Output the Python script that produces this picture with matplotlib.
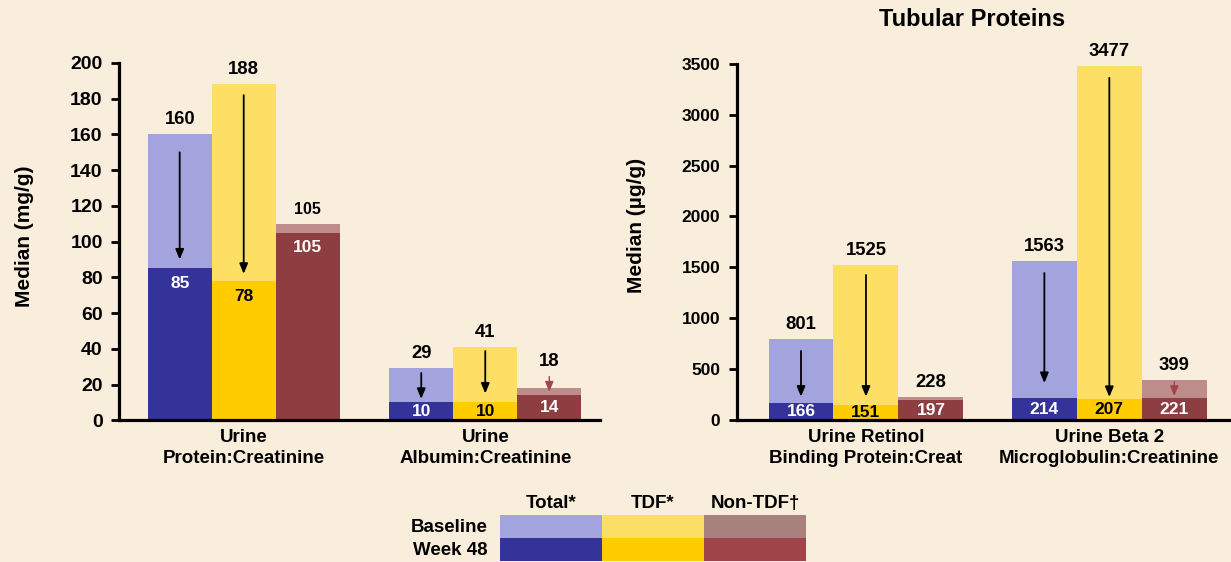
import matplotlib.pyplot as plt
from matplotlib.patches import Rectangle

plt.rcParams['font.family'] = ['Liberation Sans', 'DejaVu Sans']
plt.rcParams['font.weight'] = 'bold'

BG = '#F9EDDC'

# colours used in the chart
C_BASE = ['#A3A3DE', '#FDDF66', '#BF8C8C']
C_W48 = ['#343399', '#FFCC00', '#8E3D40']
TXT_IN = ['white', 'black', 'white']
# colours used in the legend box
L_BASE = ['#A3A3DD', '#FDDF66', '#A98280']
L_W48 = ['#343399', '#FFCC00', '#A0464A']

# ---- left panel data (mg/g)
left_cats = ['Urine\nProtein:Creatinine', 'Urine\nAlbumin:Creatinine']
left_base_total = [160, 29]
left_base_tdf = [188, 41]
left_base_non = [110, 18]
left_base_labels_non = ['105', '18']
left_w48_total = [85, 10]
left_w48_tdf = [78, 10]
left_w48_non = [105, 14]
left_arrows_total = [(150, 90), (26.5, 12)]
left_arrows_tdf = [(182, 82), (38.8, 15)]
left_arrows_non = [None, (24.5, 16)]

# ---- right panel data (ug/g)
right_cats = ['Urine Retinol\nBinding Protein:Creat', 'Urine Beta 2\nMicroglobulin:Creatinine']
right_base_total = [801, 1563]
right_base_tdf = [1525, 3477]
right_base_non = [228, 399]
right_w48_total = [166, 214]
right_w48_tdf = [151, 207]
right_w48_non = [197, 221]
right_arrows_total = [(680, 232), (1445, 366)]
right_arrows_tdf = [(1426, 232), (3360, 229)]
right_arrows_non = [None, (379, 238)]

legend_cols = ['Total*', 'TDF*', 'Non-TDF\u2020']
legend_rows = ['Baseline', 'Week 48']


def draw_panel(ax, cats, base, base_labels, w48, arrows, ymax, ystep, xlim, w,
               small_first_non=False):
    ax.set_facecolor('none')
    offs = [-w, 0, w]
    for i in range(3):
        for g in range(len(cats)):
            x = g + offs[i]
            ax.bar(x, base[i][g], width=w, color=C_BASE[i], linewidth=0)
            ax.bar(x, w48[i][g], width=w, color=C_W48[i], linewidth=0)
            arr = arrows[i][g]
            top = base[i][g]
            if arr is not None:
                col = 'black' if i < 2 else '#A0454A'
                lw = 1.3 if i < 2 else 1.0
                ax.annotate('', xy=(x, arr[1]), xytext=(x, arr[0]),
                            arrowprops=dict(arrowstyle='-|>,head_length=0.6,head_width=0.25',
                                            mutation_scale=10, color=col, lw=lw,
                                            shrinkA=0, shrinkB=0))
                top = max(top, arr[0])
            fs = 11.5 if (small_first_non and i == 2 and g == 0) else 13.3
            ax.annotate(base_labels[i][g], xy=(x, top), xytext=(0, 10.5),
                        textcoords='offset points', ha='center', va='center',
                        fontsize=fs, fontweight='bold', color='black')
            v = w48[i][g]
            h_px = v / ymax * 357
            if h_px > 40:
                ax.annotate(str(v), xy=(x, v), xytext=(0, -11), textcoords='offset points',
                            ha='center', va='center', fontsize=12.5, fontweight='bold',
                            color=TXT_IN[i])
            else:
                ax.text(x, v / 2, str(v), ha='center', va='center', fontsize=12.5,
                        fontweight='bold', color=TXT_IN[i])
    ax.set_xlim(*xlim)
    ax.set_ylim(0, ymax)
    ax.set_yticks(range(0, ymax + 1, ystep))
    ax.set_xticks(range(len(cats)))
    ax.set_xticklabels(cats, fontsize=13.5, fontweight='bold', linespacing=1.35)
    ax.tick_params(axis='x', length=0, pad=6)
    ax.tick_params(axis='y', length=6, width=2, direction='out', pad=6)
    for s in ['top', 'right']:
        ax.spines[s].set_visible(False)
    for s in ['left', 'bottom']:
        ax.spines[s].set_linewidth(2.3)
    for lab in ax.get_yticklabels():
        lab.set_fontweight('bold')


fig = plt.figure(figsize=(12.31, 5.62), dpi=100, facecolor=BG)

ax1 = fig.add_axes([119.3 / 1231, (562 - 420.3) / 562, (600 - 119.3) / 1231, 357.3 / 562])
draw_panel(ax1, left_cats,
           [left_base_total, left_base_tdf, left_base_non],
           [[str(v) for v in left_base_total], [str(v) for v in left_base_tdf], left_base_labels_non],
           [left_w48_total, left_w48_tdf, left_w48_non],
           [left_arrows_total, left_arrows_tdf, left_arrows_non],
           200, 20, (-0.515, 1.475), 0.265, small_first_non=True)
ax1.tick_params(axis='y', labelsize=14)

ax2 = fig.add_axes([737 / 1231, (562 - 420.3) / 562, (1231 - 737) / 1231, 356.7 / 562])
draw_panel(ax2, right_cats,
           [right_base_total, right_base_tdf, right_base_non],
           [[str(v) for v in right_base_total], [str(v) for v in right_base_tdf],
            [str(v) for v in right_base_non]],
           [right_w48_total, right_w48_tdf, right_w48_non],
           [right_arrows_total, right_arrows_tdf, right_arrows_non],
           3500, 500, (-0.53, 1.5), 0.267)
ax2.tick_params(axis='y', labelsize=12.5)

fig.text(25 / 1231, 1 - 236 / 562, 'Median (mg/g)', rotation=90, ha='center', va='center',
         fontsize=15, fontweight='bold')
fig.text(636 / 1231, 1 - 225 / 562, 'Median (\u00b5g/g)', rotation=90, ha='center', va='center',
         fontsize=15, fontweight='bold')
fig.text(972 / 1231, 1 - 19 / 562, 'Tubular Proteins', ha='center', va='center',
         fontsize=17, fontweight='bold')

# legend table
lax = fig.add_axes([500 / 1231, 1 - 561 / 562, 306 / 1231, 46 / 562])
lax.set_xlim(0, 3)
lax.set_ylim(0, 2)
lax.axis('off')
for i in range(3):
    lax.add_patch(Rectangle((i, 1), 1, 1, color=L_BASE[i], lw=0))
    lax.add_patch(Rectangle((i, 0), 1, 1, color=L_W48[i], lw=0))
    fig.text((500 + 102 * i + 51) / 1231, 1 - 503 / 562, legend_cols[i], ha='center',
             va='center', fontsize=13.5, fontweight='bold')
for j, r in enumerate(legend_rows):
    fig.text(488 / 1231, 1 - (527 + 23.5 * j) / 562, r, ha='right', va='center',
             fontsize=13.5, fontweight='bold')

fig.savefig('out.png', dpi=100, facecolor=BG)
